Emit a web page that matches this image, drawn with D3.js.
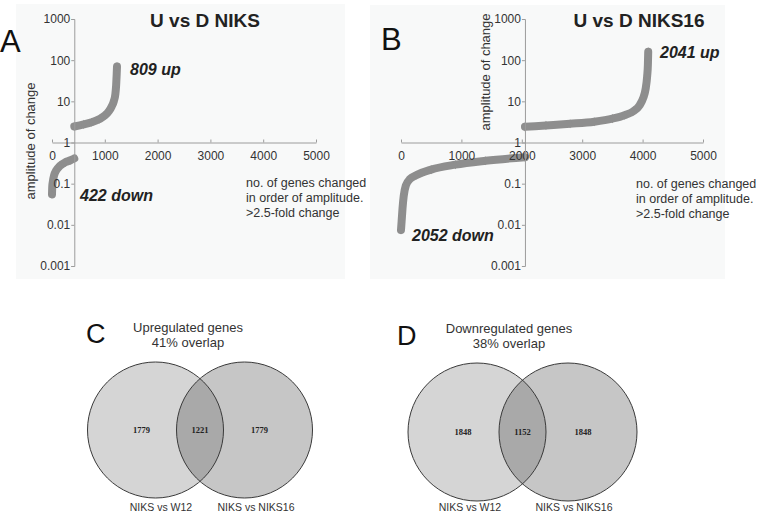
<!DOCTYPE html>
<html>
<head>
<meta charset="utf-8">
<script src="https://cdn.jsdelivr.net/npm/d3@7"></script>
<style>
  body { margin: 0; background: #fff; }
  svg { display: block; }
</style>
</head>
<body>
<svg id="fig" width="760" height="515"></svg>
<script>
/* global d3 */
const xTicks = [0, 1000, 2000, 3000, 4000, 5000];
const yTicks = [0.001, 0.01, 0.1, 1, 10, 100, 1000];
const yTickLabels = ['0.001', '0.01', '0.1', '1', '10', '100', '1000'];

// [rank, fold change]
const niksDown = [[0, 0.055], [5, 0.085], [15, 0.11], [40, 0.16], [80, 0.21], [150, 0.27], [250, 0.33], [350, 0.37], [422, 0.41]];
const niksUp = [[422, 2.45], [600, 2.75], [750, 3.1], [900, 3.7], [1000, 4.5], [1080, 5.8], [1130, 7.5], [1170, 10], [1200, 15], [1215, 25], [1225, 45], [1231, 70]];
const niks16Down = [[0, 0.0075], [10, 0.012], [25, 0.025], [45, 0.05], [80, 0.09], [150, 0.13], [250, 0.16], [500, 0.22], [900, 0.29], [1400, 0.36], [2052, 0.44]];
const niks16Up = [[2052, 2.4], [2400, 2.6], [2800, 2.85], [3200, 3.2], [3500, 3.8], [3700, 4.6], [3850, 5.8], [3950, 8], [4010, 12], [4050, 20], [4075, 40], [4088, 80], [4093, 160]];

const niksCounts = { up: 809, down: 422 };
const niks16Counts = { up: 2041, down: 2052 };
const xTitleLines = ['no. of genes changed', 'in order of amplitude.', '>2.5-fold change'];

const vennSets = ['NIKS vs W12', 'NIKS vs NIKS16'];
const vennUp = [1779, 1221, 1779];
const vennDown = [1848, 1152, 1848];

const SANS = "'Liberation Sans', Arial, sans-serif";
const DOT = '#8e8e8e';

const svg = d3.select('#fig');

function drawScatter(p) {
  const g = svg.append('g');
  g.append('rect').attr('x', p.box[0]).attr('y', p.box[1]).attr('width', p.box[2]).attr('height', p.box[3]).attr('fill', '#f8f9f9');

  const x = d3.scaleLinear().domain([0, 5000]).range(p.xRange);
  const y = d3.scaleLog().domain([0.001, 1000]).range([266, 19]);
  const line = d3.line().x(d => x(d[0])).y(d => y(d[1])).curve(d3.curveMonotoneX);

  [p.down, p.up].forEach(s => {
    g.append('path').attr('d', line(s)).attr('fill', 'none').attr('stroke', DOT)
      .attr('stroke-width', 8).attr('stroke-linejoin', 'round').attr('stroke-linecap', 'round');
    g.append('g').selectAll('path').data(s).join('path')
      .attr('transform', d => `translate(${x(d[0])},${y(d[1])})`)
      .attr('d', d3.symbol(d3.symbolDiamond, 24)).attr('fill', DOT);
  });

  const xAxis = d3.axisBottom(x).tickValues(xTicks).tickSizeInner(-3).tickSizeOuter(0).tickPadding(9).tickFormat(d3.format('d'));
  const gx = g.append('g').attr('transform', `translate(0,${y(1)})`).call(xAxis);
  const yAxis = d3.axisLeft(y).tickValues(yTicks).tickFormat((d, i) => yTickLabels[i]).tickSize(3).tickPadding(1);
  const gy = g.append('g').attr('transform', `translate(${x(p.counts.down)},0)`).call(yAxis);
  [gx, gy].forEach(a => {
    a.selectAll('.domain, .tick line').attr('stroke', '#9c9c9c');
    a.selectAll('.tick text').attr('fill', '#333').attr('font-size', 12).attr('font-family', SANS);
  });

  g.append('text').attr('x', p.title[0]).attr('y', p.title[1]).attr('text-anchor', 'middle')
    .attr('font-family', SANS).attr('font-weight', 700).attr('font-size', 19).attr('fill', '#222').text(p.titleText);
  g.append('text').attr('x', p.upAt[0]).attr('y', p.upAt[1]).attr('font-family', SANS).attr('font-weight', 700)
    .attr('font-style', 'italic').attr('font-size', 16).attr('fill', '#222').text(`${p.counts.up} up`);
  g.append('text').attr('x', p.downAt[0]).attr('y', p.downAt[1]).attr('font-family', SANS).attr('font-weight', 700)
    .attr('font-style', 'italic').attr('font-size', 16).attr('fill', '#222').text(`${p.counts.down} down`);

  g.append('g').selectAll('text').data(xTitleLines).join('text')
    .attr('x', p.xTitle[0]).attr('y', (d, i) => p.xTitle[1] + i * 15)
    .attr('font-family', SANS).attr('font-size', 12.5).attr('fill', '#333').text(d => d);
  g.append('text').attr('transform', `translate(${p.yTitle[0]},${p.yTitle[1]}) rotate(-90)`)
    .attr('text-anchor', 'middle').attr('dy', '0.35em').attr('font-family', SANS).attr('font-size', 13)
    .attr('fill', '#333').text('amplitude of change');
  g.append('text').attr('x', p.letter[0]).attr('y', p.letter[1]).attr('font-family', SANS)
    .attr('font-size', 31).attr('fill', '#111').text(p.letterText);
}

function drawVenn(p) {
  const g = svg.append('g');
  const [cl, cr] = p.cx;
  const clipId = `clip-${p.letterText}`;
  g.append('clipPath').attr('id', clipId).append('circle').attr('cx', cl).attr('cy', p.cy).attr('r', p.r);

  g.append('circle').attr('cx', cl).attr('cy', p.cy).attr('r', p.r).attr('fill', '#d5d5d5');
  g.append('circle').attr('cx', cr).attr('cy', p.cy).attr('r', p.r).attr('fill', '#c6c6c6');
  g.append('circle').attr('cx', cr).attr('cy', p.cy).attr('r', p.r).attr('fill', '#a9a9a9').attr('clip-path', `url(#${clipId})`);
  g.selectAll('.ring').data([cl, cr]).join('circle').attr('class', 'ring')
    .attr('cx', d => d).attr('cy', p.cy).attr('r', p.r).attr('fill', 'none').attr('stroke', '#3a3a3a').attr('stroke-width', 1);

  const numX = [cl - 14, (cl + cr) / 2, cr + 15];
  g.append('g').selectAll('text').data(p.counts).join('text')
    .attr('x', (d, i) => numX[i]).attr('y', p.cy + 3).attr('text-anchor', 'middle')
    .attr('font-family', "'Liberation Serif', 'Times New Roman', serif").attr('font-weight', 700)
    .attr('font-size', 8.5).attr('fill', '#222').text(d => d);

  g.append('g').selectAll('text').data(vennSets).join('text')
    .attr('x', (d, i) => p.setX[i]).attr('y', 511).attr('text-anchor', 'middle')
    .attr('font-family', SANS).attr('font-size', 10.5).attr('fill', '#333').text(d => d);

  g.append('g').selectAll('text').data(p.titleLines).join('text')
    .attr('x', p.titleX).attr('y', (d, i) => p.titleY + i * 15).attr('text-anchor', 'middle')
    .attr('font-family', SANS).attr('font-size', 13).attr('fill', '#333').text(d => d);
  g.append('text').attr('x', p.letter[0]).attr('y', p.letter[1]).attr('font-family', SANS)
    .attr('font-size', 27).attr('fill', '#111').text(p.letterText);
}

drawScatter({
  box: [16, 4, 329, 275], xRange: [52, 316], down: niksDown, up: niksUp, counts: niksCounts,
  titleText: 'U vs D NIKS', title: [205, 27], upAt: [130, 75], downAt: [80, 201],
  xTitle: [246, 187], yTitle: [30, 141], letter: [0, 52], letterText: 'A'
});
drawScatter({
  box: [370, 5, 355, 274], xRange: [401, 703], down: niks16Down, up: niks16Up, counts: niks16Counts,
  titleText: 'U vs D NIKS16', title: [639, 27], upAt: [660, 58], downAt: [412, 241],
  xTitle: [636, 188], yTitle: [485, 72], letter: [381, 50], letterText: 'B'
});

drawVenn({
  cx: [155.5, 244.5], cy: 430, r: 68, counts: vennUp, setX: [161, 256],
  titleLines: ['Upregulated genes', '41% overlap'], titleX: 188, titleY: 332, letter: [86, 343], letterText: 'C'
});
drawVenn({
  cx: [477, 568], cy: 432, r: 69, counts: vennDown, setX: [470, 574],
  titleLines: ['Downregulated genes', '38% overlap'], titleX: 509, titleY: 333, letter: [397, 345], letterText: 'D'
});
</script>
</body>
</html>
